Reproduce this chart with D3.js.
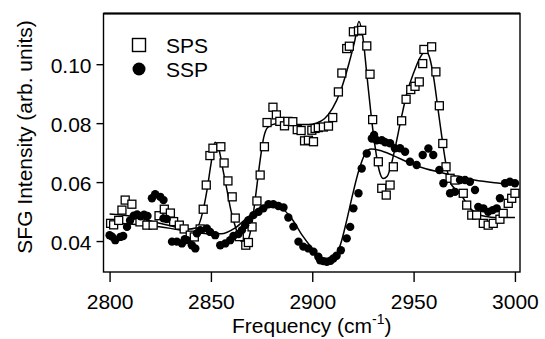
<!DOCTYPE html>
<html><head><meta charset="utf-8">
<script src="https://cdn.jsdelivr.net/npm/d3@7"></script>
<style>body{margin:0;background:#fff}svg{display:block}text{font-family:"Liberation Sans",Arial,sans-serif;fill:#000}</style>
</head><body><svg id="c" width="545" height="339"></svg>
<script>
const xTicks = [2800, 2850, 2900, 2950, 3000];
const yTicks = [0.04, 0.06, 0.08, 0.10];
const seriesNames = ["SPS", "SSP"];

const spsFreq = [2800.5,2802.0,2804.5,2806.1,2807.7,2811.0,2815.0,2818.4,2821.5,2824.4,2827.0,2830.0,2831.6,2834.4,2836.8,2839.8,2841.8,2844.7,2846.2,2847.7,2849.5,2851.0,2854.9,2856.5,2858.4,2860.5,2862.0,2864.0,2867.2,2868.5,2870.3,2872.7,2874.3,2876.4,2877.7,2880.6,2882.3,2884.0,2886.3,2888.0,2890.4,2892.6,2894.5,2896.2,2898.1,2899.8,2900.6,2901.4,2903.0,2905.5,2908.0,2910.1,2912.9,2914.6,2917.0,2918.3,2920.3,2922.8,2924.4,2926.9,2928.5,2929.8,2932.6,2934.3,2936.5,2938.4,2940.0,2944.1,2946.3,2948.6,2950.7,2952.8,2954.5,2955.1,2958.9,2961.0,2962.7,2964.4,2966.0,2968.0,2970.4,2974.5,2976.2,2978.7,2981.1,2984.4,2986.8,2989.3,2992.6,2994.2,2996.7,2998.4,3000.0];
const spsVal = [0.0460,0.0455,0.0470,0.0505,0.0539,0.0525,0.0465,0.0454,0.0454,0.0486,0.0508,0.0495,0.0466,0.0454,0.0441,0.0420,0.0414,0.0441,0.0508,0.0590,0.0690,0.0715,0.0720,0.0665,0.0604,0.0550,0.0478,0.0415,0.0386,0.0395,0.0448,0.0536,0.0624,0.0720,0.0802,0.0854,0.0828,0.0806,0.0791,0.0806,0.0805,0.0778,0.0775,0.0740,0.0742,0.0776,0.0737,0.0782,0.0785,0.0787,0.0790,0.0819,0.0906,0.0970,0.1053,0.1061,0.1110,0.1113,0.1115,0.1062,0.0966,0.0812,0.0669,0.0579,0.0556,0.0590,0.0652,0.0808,0.0881,0.0914,0.0925,0.0940,0.1002,0.1050,0.1059,0.0974,0.0859,0.0731,0.0652,0.0613,0.0607,0.0562,0.0522,0.0488,0.0488,0.0460,0.0454,0.0460,0.0474,0.0494,0.0528,0.0545,0.0562];

const sspFreq = [2800.0,2801.2,2802.8,2805.3,2806.7,2808.6,2810.1,2811.9,2813.6,2815.3,2817.0,2818.7,2820.9,2822.5,2825.0,2826.6,2826.6,2828.2,2830.8,2833.2,2835.7,2837.1,2838.2,2840.6,2842.3,2843.1,2844.7,2848.0,2849.6,2852.1,2854.6,2857.1,2859.5,2861.1,2863.6,2865.3,2866.9,2868.5,2871.0,2873.5,2875.9,2878.4,2880.8,2883.3,2885.8,2888.2,2890.7,2893.2,2895.6,2898.1,2900.6,2903.0,2903.9,2905.5,2907.2,2909.0,2910.4,2912.0,2914.1,2917.0,2918.7,2920.3,2922.8,2924.4,2926.9,2929.4,2930.5,2931.8,2934.3,2936.0,2938.4,2940.8,2943.3,2945.8,2948.2,2951.5,2954.5,2957.3,2959.7,2962.7,2964.7,2968.0,2970.4,2972.9,2975.4,2977.8,2980.3,2981.9,2984.4,2986.8,2989.0,2991.0,2992.6,2995.1,2997.5,3000.0];
const sspVal = [0.0420,0.0415,0.0403,0.0414,0.0417,0.0448,0.0470,0.0486,0.0490,0.0484,0.0489,0.0485,0.0545,0.0559,0.0550,0.0539,0.0477,0.0475,0.0398,0.0398,0.0392,0.0406,0.0403,0.0386,0.0375,0.0426,0.0437,0.0443,0.0431,0.0420,0.0386,0.0392,0.0403,0.0417,0.0424,0.0437,0.0454,0.0471,0.0488,0.0499,0.0511,0.0525,0.0525,0.0519,0.0514,0.0480,0.0449,0.0398,0.0381,0.0375,0.0364,0.0347,0.0335,0.0332,0.0330,0.0333,0.0341,0.0350,0.0369,0.0409,0.0448,0.0511,0.0562,0.0646,0.0697,0.0748,0.0760,0.0742,0.0742,0.0735,0.0732,0.0715,0.0715,0.0703,0.0669,0.0658,0.0692,0.0714,0.0692,0.0641,0.0596,0.0562,0.0567,0.0607,0.0607,0.0601,0.0573,0.0516,0.0511,0.0499,0.0505,0.0511,0.0545,0.0596,0.0601,0.0596];

const spsFitFreq = [2800,2810,2820,2830,2838,2843,2846,2848,2850,2852,2854,2856,2858,2860,2862,2864,2866,2868,2870,2872,2874,2876,2878,2882,2888,2894,2898,2902,2906,2910,2914,2918,2921,2923,2925,2927,2929,2931,2933,2935,2937,2939,2941,2944,2947,2950,2953,2956,2958,2960,2962,2964,2966,2968,2970,2974,2978,2982,2986,2990,3000];
const spsFitVal = [0.0492,0.0485,0.0468,0.0452,0.0440,0.0445,0.0500,0.0570,0.0660,0.0735,0.0710,0.0640,0.0570,0.0500,0.0450,0.0410,0.0395,0.0400,0.0450,0.0550,0.0660,0.0750,0.0785,0.0798,0.0800,0.0795,0.0795,0.0800,0.0815,0.0850,0.0910,0.1000,0.1080,0.1145,0.1090,0.0960,0.0830,0.0720,0.0640,0.0612,0.0620,0.0660,0.0720,0.0820,0.0910,0.0970,0.1020,0.1045,0.1020,0.0950,0.0850,0.0750,0.0660,0.0600,0.0580,0.0550,0.0510,0.0490,0.0483,0.0480,0.0480];

const sspFitFreq = [2800,2810,2820,2830,2840,2848,2855,2862,2868,2874,2879,2884,2890,2895,2900,2904,2908,2911,2914,2917,2920,2923,2926,2929,2933,2940,2948,2956,2964,2972,2980,2990,3000];
const sspFitVal = [0.0462,0.0458,0.0452,0.0443,0.0432,0.0425,0.0425,0.0445,0.0480,0.0512,0.0522,0.0515,0.0475,0.0420,0.0375,0.0345,0.0332,0.0345,0.0390,0.0470,0.0560,0.0640,0.0695,0.0712,0.0708,0.0690,0.0665,0.0645,0.0632,0.0618,0.0607,0.0598,0.0592];

const svg = d3.select("#c");
const L = 103.5, R = 520, T = 13.5, B = 272;
const x = d3.scaleLinear().domain([2797, 3002.5]).range([L, R]);
const y = d3.scaleLinear().domain([0.0295, 0.1172]).range([B, T]);
const FS = 21;

// fit lines
const line = d3.line().x(d => x(d[0])).y(d => y(d[1])).curve(d3.curveMonotoneX);
svg.append("path").datum(d3.zip(sspFitFreq, sspFitVal)).attr("d", line)
  .attr("fill", "none").attr("stroke", "#000").attr("stroke-width", 1.5);
svg.append("path").datum(d3.zip(spsFitFreq, spsFitVal)).attr("d", line)
  .attr("fill", "none").attr("stroke", "#000").attr("stroke-width", 1.5);

// squares
const sq = 8;
svg.append("g").selectAll("rect").data(d3.zip(spsFreq, spsVal)).join("rect")
  .attr("x", d => x(d[0]) - sq/2).attr("y", d => y(d[1]) - sq/2)
  .attr("width", sq).attr("height", sq)
  .attr("fill", "#fff").attr("stroke", "#000").attr("stroke-width", 1.3);
// circles
svg.append("g").selectAll("circle").data(d3.zip(sspFreq, sspVal)).join("circle")
  .attr("cx", d => x(d[0])).attr("cy", d => y(d[1])).attr("r", 4.2).attr("fill", "#000");

// frame
svg.append("rect").attr("x", L).attr("y", T).attr("width", R - L).attr("height", B - T)
  .attr("fill", "none").attr("stroke", "#000").attr("stroke-width", 1.4);
svg.append("line").attr("x1", L).attr("x2", R).attr("y1", T).attr("y2", T)
  .attr("stroke", "#000").attr("stroke-width", 2.2);

// axes
const xAxis = d3.axisBottom(x).tickValues(xTicks).tickSize(10).tickPadding(12).tickFormat(d3.format("d"));
const gx = svg.append("g").attr("transform", `translate(0,${B})`).call(xAxis);
gx.select(".domain").remove();
gx.selectAll("line").attr("stroke", "#000").attr("stroke-width", 1.4);
gx.selectAll("text").attr("font-size", FS).attr("font-family", "Liberation Sans, Arial, sans-serif");

const yAxis = d3.axisLeft(y).tickValues(yTicks).tickSize(7).tickPadding(5).tickFormat(d3.format(".2f"));
const gy = svg.append("g").attr("transform", `translate(${L},0)`).call(yAxis);
gy.select(".domain").remove();
gy.selectAll("line").attr("stroke", "#000").attr("stroke-width", 1.4);
gy.selectAll("text").attr("font-size", FS).attr("dy", "0.4em").attr("font-family", "Liberation Sans, Arial, sans-serif");

// axis titles
const xt = svg.append("text").attr("x", (L + R) / 2).attr("y", 333).attr("text-anchor", "middle").attr("font-size", FS);
xt.append("tspan").text("Frequency (cm");
xt.append("tspan").text("-1").attr("font-size", 14).attr("dy", -9);
xt.append("tspan").text(")").attr("dy", 9);

svg.append("text").attr("transform", `translate(32,137) rotate(-90)`).attr("text-anchor", "middle")
  .attr("font-size", FS).text("SFG Intensity (arb. units)");

// legend
const lg = svg.append("g");
lg.append("rect").attr("x", 139 - 6.5).attr("y", 45 - 6.5).attr("width", 13).attr("height", 13)
  .attr("fill", "#fff").attr("stroke", "#000").attr("stroke-width", 1.4);
lg.append("circle").attr("cx", 139).attr("cy", 69).attr("r", 6.5).attr("fill", "#000");
lg.selectAll("text").data(seriesNames).join("text")
  .attr("x", 166).attr("y", (d, i) => 45 + i * 24).attr("dy", "0.36em").attr("font-size", FS).text(d => d);
</script></body></html>
